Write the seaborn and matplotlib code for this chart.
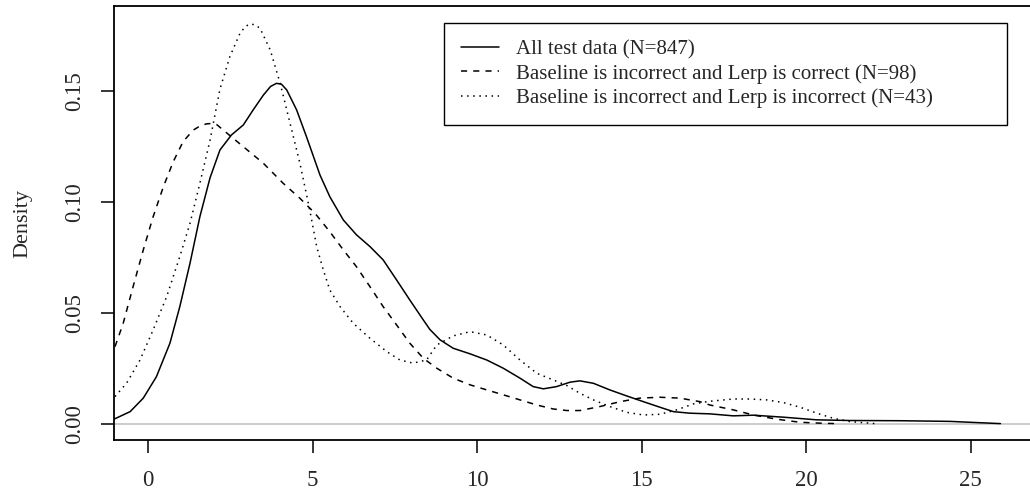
import numpy as np
import pandas as pd
import matplotlib
matplotlib.use("Agg")
import matplotlib.pyplot as plt
import seaborn as sns

# curves (x, density)
all_x = [-1.04, -0.55, -0.15, 0.25, 0.66, 0.96, 1.27, 1.57, 1.88, 2.18, 2.53, 2.89, 3.19, 3.50,
         3.72, 3.90, 4.05, 4.21, 4.51, 4.81, 5.22, 5.52, 5.93, 6.33, 6.74, 7.14, 7.55, 7.95, 8.36,
         8.56, 8.87, 9.27, 9.78, 10.29, 10.79, 11.30, 11.70, 12.01, 12.41, 12.82, 13.12, 13.53,
         14.03, 14.54, 15.05, 15.55, 15.96, 16.46, 17.07, 17.78, 18.39, 19.30, 20.32, 21.33,
         22.85, 24.37, 25.28, 25.90]
all_y = [0.0020, 0.0054, 0.0115, 0.0212, 0.0363, 0.0528, 0.0724, 0.0934, 0.1110, 0.1235, 0.1303,
         0.1348, 0.1416, 0.1483, 0.1522, 0.1536, 0.1532, 0.1506, 0.1416, 0.1295, 0.1122, 0.1024,
         0.0919, 0.0852, 0.0799, 0.0739, 0.0648, 0.0558, 0.0468, 0.0425, 0.0378, 0.0340, 0.0315,
         0.0287, 0.0250, 0.0205, 0.0167, 0.0157, 0.0167, 0.0187, 0.0193, 0.0182, 0.0152, 0.0125,
         0.0099, 0.0074, 0.0054, 0.0047, 0.0044, 0.0035, 0.0038, 0.0029, 0.0017, 0.0014, 0.0013,
         0.0010, 0.0004, 0.0000]

ok_x = [-1.01, -0.76, -0.46, -0.15, 0.15, 0.46, 0.76, 1.06, 1.37, 1.57, 1.77, 1.95, 2.08, 2.28,
        2.89, 3.50, 4.10, 4.61, 5.07, 5.52, 5.93, 6.33, 6.74, 7.14, 7.55, 7.95, 8.36, 8.77, 9.27,
        9.78, 10.29, 10.79, 11.30, 11.81, 12.31, 12.72, 13.12, 13.73, 14.34, 14.94, 15.55, 16.16,
        16.77, 17.07, 17.78, 18.39, 19.10, 19.81, 20.42, 20.90]
ok_y = [0.0347, 0.0453, 0.0618, 0.0784, 0.0934, 0.1069, 0.1182, 0.1273, 0.1325, 0.1343, 0.1353,
        0.1355, 0.1350, 0.1325, 0.1250, 0.1175, 0.1085, 0.1017, 0.0949, 0.0866, 0.0784, 0.0708,
        0.0618, 0.0528, 0.0445, 0.0363, 0.0295, 0.0250, 0.0205, 0.0175, 0.0152, 0.0130, 0.0107,
        0.0084, 0.0066, 0.0059, 0.0059, 0.0077, 0.0099, 0.0115, 0.0119, 0.0115, 0.0099, 0.0084,
        0.0062, 0.0039, 0.0020, 0.0006, 0.0002, 0.0000]

bad_x = [-1.01, -0.66, -0.25, 0.15, 0.56, 0.96, 1.27, 1.57, 1.88, 2.18, 2.48, 2.79, 2.95, 3.09,
         3.25, 3.40, 3.71, 4.01, 4.31, 4.61, 4.91, 5.12, 5.32, 5.52, 5.83, 6.23, 6.74, 7.25, 7.65,
         8.05, 8.46, 8.77, 9.27, 9.78, 10.29, 10.79, 11.30, 11.81, 12.31, 12.72, 13.12, 13.53,
         14.03, 14.54, 15.05, 15.55, 16.06, 16.57, 17.07, 17.78, 18.29, 18.80, 19.30, 19.81, 20.32,
         20.82, 21.33, 22.10]
bad_y = [0.0122, 0.0182, 0.0287, 0.0423, 0.0573, 0.0754, 0.0904, 0.1085, 0.1280, 0.1510, 0.1656,
         0.1762, 0.1792, 0.1804, 0.1800, 0.1784, 0.1686, 0.1536, 0.1356, 0.1175, 0.0964, 0.0799,
         0.0694, 0.0603, 0.0528, 0.0453, 0.0385, 0.0325, 0.0287, 0.0273, 0.0287, 0.0355, 0.0396,
         0.0415, 0.0400, 0.0355, 0.0287, 0.0227, 0.0197, 0.0172, 0.0137, 0.0107, 0.0077, 0.0051,
         0.0039, 0.0042, 0.0062, 0.0089, 0.0101, 0.0111, 0.0111, 0.0107, 0.0095, 0.0074, 0.0047,
         0.0024, 0.0009, 0.0000]

labels = ["All test data (N=847)",
          "Baseline is incorrect and Lerp is correct (N=98)",
          "Baseline is incorrect and Lerp is incorrect (N=43)"]
x_ticks = [0, 5, 10, 15, 20, 25]
y_ticks = [0.00, 0.05, 0.10, 0.15]

df_all = pd.DataFrame({"x": all_x, "y": all_y})
df_ok = pd.DataFrame({"x": ok_x, "y": ok_y})
df_bad = pd.DataFrame({"x": bad_x, "y": bad_y})

sns.set_style("ticks")
plt.rcParams["font.family"] = ["Liberation Serif", "DejaVu Serif"]
plt.rcParams["font.size"] = 16.5

fig = plt.figure(figsize=(10.3, 4.92), dpi=100)
ax = fig.add_axes([114 / 1030, 1 - 440 / 492, (1033 - 114) / 1030, (440 - 6) / 492])

ax.axhline(0, color="#BEBEBE", lw=1.1, zorder=1)
sns.lineplot(data=df_all, x="x", y="y", ax=ax, color="black", lw=1.1, estimator=None,
             label=labels[0])
sns.lineplot(data=df_ok, x="x", y="y", ax=ax, color="black", lw=1.1, estimator=None,
             label=labels[1])
ax.lines[-1].set_dashes([4, 4])
sns.lineplot(data=df_bad, x="x", y="y", ax=ax, color="black", lw=1.1, estimator=None,
             label=labels[2])
ax.lines[-1].set_dashes([1, 3])
for ln in ax.lines:
    ln.set_solid_joinstyle("round")
    ln.set_dash_joinstyle("round")

ax.set_xlim(-1.04, 26.89)
ax.set_ylim(-0.0074, 0.1885)
ax.set_xticks(x_ticks)
ax.set_xticklabels([str(t) for t in x_ticks])
ax.set_yticks(y_ticks)
ax.set_yticklabels([f"{t:.2f}" for t in y_ticks], rotation=90, va="center")
ax.set_xlabel("")
ax.set_ylabel("Density", labelpad=23, fontsize=16)

for s in ax.spines.values():
    s.set_linewidth(1.3)
    s.set_color("black")
ax.tick_params(axis="both", direction="out", length=9.5, width=1.1, color="black",
               labelsize=16.5)
ax.tick_params(axis="x", pad=12)
ax.tick_params(axis="y", pad=11)

# legend box spans x 444..1007 px, top at 23 px
lx0 = (444 - 114) / 919
lw = (1007 - 444) / 919
ltop = 1 - (23 - 6) / 434
leg = ax.legend(loc="upper left", bbox_to_anchor=(lx0, ltop - 0.3, lw, 0.3), mode="expand",
                frameon=True, fancybox=False, edgecolor="black", framealpha=1,
                handlelength=1.85, handletextpad=0.8, borderpad=0.8, labelspacing=0.22,
                fontsize=15, borderaxespad=0)
leg.get_frame().set_linewidth(1.0)
handles = leg.legend_handles
handles[1].set_dashes([4, 4])
handles[2].set_dashes([1, 3])

fig.savefig("out.png", dpi=100)
